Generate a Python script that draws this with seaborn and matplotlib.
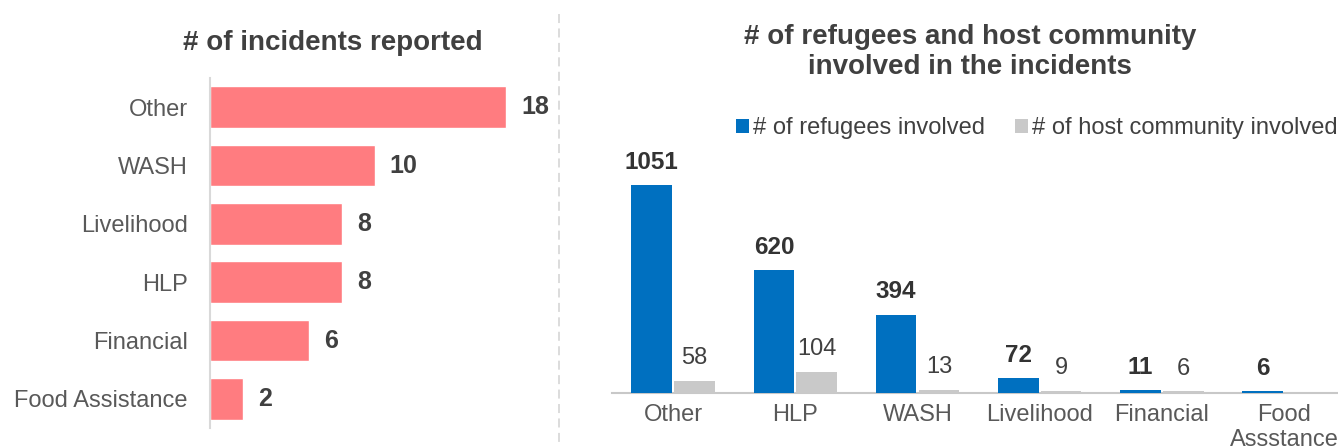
import matplotlib
matplotlib.use("Agg")
import matplotlib.pyplot as plt
from matplotlib.lines import Line2D
from matplotlib.patches import Patch
import seaborn as sns
import pandas as pd

# ---- data ----
incident_categories = ["Other", "WASH", "Livelihood", "HLP", "Financial", "Food Assistance"]
incident_counts = [18, 10, 8, 8, 6, 2]

people_categories = ["Other", "HLP", "WASH", "Livelihood", "Financial", "Food\nAssstance"]
refugees_involved = [1051, 620, 394, 72, 11, 6]
host_involved = [58, 104, 13, 9, 6, 0]
series_names = ["# of refugees involved", "# of host community involved"]

# ---- style ----
sns.set_theme(style="white")
plt.rcParams["font.family"] = ["Liberation Sans", "DejaVu Sans"]

W, H = 1338, 448
fig = plt.figure(figsize=(W / 100, H / 100), dpi=100)

def fx(px):
    return px / W

def fy(py):
    return 1 - py / H

SALMON = "#FF7C80"
BLUE = "#0070C0"
GREY = "#C9C9C9"
TICK = "#595959"
VAL = "#404040"

# ---- left chart ----
axL = fig.add_axes([fx(210), fy(428), 329 / W, 350 / H])
dfL = pd.DataFrame({"cat": incident_categories, "n": incident_counts})
sns.barplot(data=dfL, x="n", y="cat", ax=axL, color=SALMON, width=0.71,
            saturation=1, order=incident_categories)
axL.set_xlim(0, 20)
axL.set_ylim(5.5, -0.5)
axL.set_xlabel("")
axL.set_ylabel("")
axL.set_xticks([])
for s in ["top", "right", "bottom"]:
    axL.spines[s].set_visible(False)
axL.spines["left"].set_color("#D9D9D9")
axL.spines["left"].set_linewidth(1.5)
axL.tick_params(axis="y", length=0, pad=16, labelsize=17, labelcolor=TICK)
for bar, v in zip(axL.patches, incident_counts):
    axL.annotate(f"{v}", (bar.get_width(), bar.get_y() + bar.get_height() / 2),
                 xytext=(11, 0), textcoords="offset points", ha="left", va="center",
                 fontsize=18, fontweight="bold", color=VAL)

fig.text(fx(333), fy(43), "# of incidents reported", ha="center", va="center",
         fontsize=20, fontweight="bold", color=VAL)

# ---- right chart ----
axR = fig.add_axes([fx(612), fy(392.5), (W - 612) / W, 236.4 / H])
dfR = pd.DataFrame({
    "cat": people_categories * 2,
    "series": [series_names[0]] * len(people_categories) + [series_names[1]] * len(people_categories),
    "value": refugees_involved + host_involved,
})
sns.barplot(data=dfR, x="cat", y="value", hue="series", ax=axR,
            palette=[BLUE, GREY], saturation=1, width=0.7, gap=0.05,
            order=people_categories, hue_order=series_names, legend=False)
for p in axR.patches:
    p.set_zorder(4)
    p.set_linewidth(0)
axR.set_xlim(-0.5, -0.5 + (W - 612) / 122.2)
axR.set_ylim(0, 1200)
axR.set_xlabel("")
axR.set_ylabel("")
axR.set_yticks([])
for s in ["top", "right", "left"]:
    axR.spines[s].set_visible(False)
axR.spines["bottom"].set_color("#C8C8C8")
axR.spines["bottom"].set_linewidth(1.5)
axR.spines["bottom"].set_zorder(1)
axR.tick_params(axis="x", length=0, pad=8, labelsize=17, labelcolor=TICK)
for lab in axR.get_xticklabels():
    lab.set_linespacing(1.2)

for cont, vals, weight in zip(axR.containers, [refugees_involved, host_involved], ["bold", "normal"]):
    for bar, v in zip(cont, vals):
        if v == 0:
            continue
        axR.annotate(f"{v}", (bar.get_x() + bar.get_width() / 2, bar.get_height()),
                     xytext=(0, 12), textcoords="offset points", ha="center", va="baseline",
                     fontsize=17.5 if weight == "bold" else 17, fontweight=weight,
                     color=VAL if weight == "normal" else "#333333")

fig.text(fx(970), fy(52), "# of refugees and host community\ninvolved in the incidents",
         ha="center", va="center", fontsize=20, fontweight="bold", color=VAL, linespacing=1.25)

handles = [Patch(facecolor=BLUE, edgecolor="none"), Patch(facecolor=GREY, edgecolor="none")]
fig.legend(handles, series_names, loc="center left", bbox_to_anchor=(fx(736), fy(128)),
           ncol=2, frameon=False, fontsize=17, handlelength=0.55, handleheight=0.55,
           handletextpad=0.15, columnspacing=1.3, borderpad=0, borderaxespad=0,
           labelcolor=VAL)

# ---- divider ----
fig.add_artist(Line2D([fx(559), fx(559)], [fy(14), fy(442)], transform=fig.transFigure,
                      color="#D9D9D9", lw=1.3, ls=(0, (5, 3))))

fig.savefig("out.png", dpi=100)
